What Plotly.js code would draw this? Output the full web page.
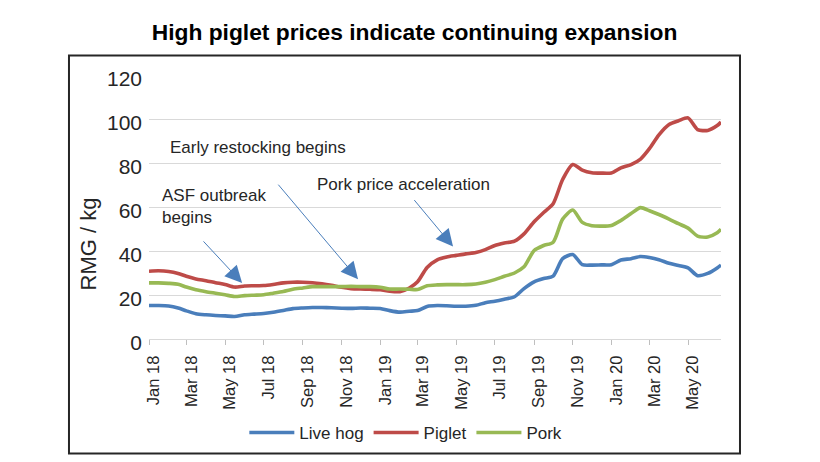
<!DOCTYPE html>
<html>
<head>
<meta charset="utf-8">
<script src="https://cdn.plot.ly/plotly-3.0.1.min.js"></script>
<style>
  html, body { margin: 0; padding: 0; background: #ffffff; }
  #chart { width: 820px; height: 462px; }
</style>
</head>
<body>
<div id="chart"></div>
<script>
// Semi-monthly observations, Jan 2018 - Jun 2020 (RMB per kg)
const dates = [
  '2018-01-01','2018-01-16','2018-02-01','2018-02-16','2018-03-01','2018-03-16',
  '2018-04-01','2018-04-16','2018-05-01','2018-05-16','2018-06-01','2018-06-16',
  '2018-07-01','2018-07-16','2018-08-01','2018-08-16','2018-09-01','2018-09-16',
  '2018-10-01','2018-10-16','2018-11-01','2018-11-16','2018-12-01','2018-12-16',
  '2019-01-01','2019-01-16','2019-02-01','2019-02-16','2019-03-01','2019-03-16',
  '2019-04-01','2019-04-16','2019-05-01','2019-05-16','2019-06-01','2019-06-16',
  '2019-07-01','2019-07-16','2019-08-01','2019-08-16','2019-09-01','2019-09-16',
  '2019-10-01','2019-10-16','2019-11-01','2019-11-16','2019-12-01','2019-12-16',
  '2020-01-01','2020-01-16','2020-02-01','2020-02-16','2020-03-01','2020-03-16',
  '2020-04-01','2020-04-16','2020-05-01','2020-05-16','2020-06-01','2020-06-16',
  '2020-06-22'
];

const liveHog = [
  15.2, 15.2, 15.0, 14.1, 12.8, 11.5, 11.0, 10.7, 10.5, 10.2, 11.0, 11.3,
  11.6, 12.2, 13.0, 13.8, 14.1, 14.3, 14.3, 14.2, 14.0, 13.9, 14.1, 14.0,
  13.9, 12.9, 12.2, 12.6, 12.9, 14.8, 15.2, 15.1, 14.9, 14.9, 15.3, 16.5,
  17.2, 18.1, 19.2, 22.9, 26.0, 27.5, 28.6, 36.5, 38.4, 33.8, 33.6, 33.7,
  33.8, 35.9, 36.5, 37.5, 37.0, 36.0, 34.4, 33.4, 32.3, 28.8, 29.8, 32.3,
  33.6
];

const piglet = [
  30.8, 31.0, 30.7, 29.8, 28.5, 27.3, 26.5, 25.6, 24.8, 23.6, 24.1, 24.2,
  24.3, 24.8, 25.5, 25.8, 25.8, 25.6, 25.1, 24.4, 23.5, 22.9, 22.7, 22.6,
  22.4, 21.7, 21.5, 23.2, 26.0, 32.5, 36.0, 37.3, 38.0, 38.7, 39.3, 40.6,
  42.5, 43.6, 44.5, 47.8, 53.3, 57.5, 61.5, 72.5, 79.3, 76.8, 75.6, 75.4,
  75.5, 77.8, 79.3, 81.8, 86.5, 92.8, 97.5, 99.2, 100.5, 95.2, 94.8, 97.0,
  98.6
];

const pork = [
  25.5, 25.5, 25.3, 24.9, 23.6, 22.4, 21.5, 20.8, 20.1, 19.3, 19.7, 19.9,
  20.1, 20.8, 21.6, 22.6, 23.2, 23.8, 23.8, 23.8, 23.8, 23.9, 23.8, 23.8,
  23.5, 22.7, 22.7, 22.6, 22.5, 24.2, 24.6, 24.7, 24.7, 24.7, 25.0, 25.8,
  27.0, 28.5, 30.0, 32.8, 40.2, 42.5, 44.0, 54.5, 58.6, 53.0, 51.5, 51.3,
  51.6, 53.9, 57.0, 59.7, 58.3, 56.6, 54.5, 52.4, 50.4, 46.8, 46.4, 48.3,
  49.9
];

const seriesNames = ['Live hog', 'Piglet', 'Pork'];
const seriesColors = ['#4a7ebb', '#be4b48', '#98b954'];

const FONT = 'Liberation Sans, Arial, sans-serif';
const TEXT = '#262626';

const traces = [liveHog, piglet, pork].map((vals, i) => ({
  type: 'scatter',
  mode: 'lines',
  name: seriesNames[i],
  x: dates,
  y: vals,
  line: { color: seriesColors[i], width: 3.6, shape: 'spline', smoothing: 0.7 },
  hoverinfo: 'x+y+name'
}));

const arrowStyle = {
  showarrow: true, text: '', axref: 'pixel', ayref: 'pixel',
  arrowhead: 2, arrowsize: 3.4, arrowwidth: 1, arrowcolor: '#4a7ebb', standoff: 0
};

const layout = {
  width: 820,
  height: 462,
  margin: { l: 149, r: 99, t: 75, b: 122 },
  paper_bgcolor: '#ffffff',
  plot_bgcolor: '#ffffff',
  font: { family: FONT, color: TEXT },
  title: {
    text: 'High piglet prices indicate continuing expansion',
    font: { family: FONT, size: 22.8, weight: 'bold', color: '#000000' },
    xref: 'container', x: 0.5055, xanchor: 'center',
    yref: 'container', y: 0.931, yanchor: 'middle'
  },
  xaxis: {
    type: 'date',
    range: ['2018-01-01', '2020-06-22'],
    tick0: '2018-01-01',
    dtick: 'M2',
    tickformat: '%b %y',
    tickangle: -90,
    ticks: 'outside',
    ticklen: 5,
    tickcolor: '#bfbfbf',
    ticklabelshift: 5,
    ticklabelstandoff: 4,
    tickfont: { family: FONT, size: 16.5, color: TEXT },
    showgrid: false,
    zeroline: false,
    showline: true,
    linecolor: '#d9d9d9',
    linewidth: 1,
    fixedrange: true
  },
  yaxis: {
    range: [0, 120],
    dtick: 20,
    tick0: 0,
    showgrid: true,
    gridcolor: '#d9d9d9',
    gridwidth: 1,
    zeroline: false,
    showline: false,
    ticks: '',
    ticklabelstandoff: 6,
    ticklabelshift: 4,
    tickfont: { family: FONT, size: 21, color: TEXT },
    fixedrange: true
  },
  showlegend: true,
  legend: {
    orientation: 'h',
    x: 0.449, xanchor: 'center',
    y: -0.351, yanchor: 'middle',
    itemwidth: 45,
    font: { family: FONT, size: 17, color: TEXT },
    bgcolor: 'rgba(0,0,0,0)',
    traceorder: 'normal'
  },
  shapes: [{
    type: 'rect', xref: 'paper', yref: 'paper',
    x0: -0.1399, x1: 1.0332, y0: -0.434, y1: 1.0736,
    line: { color: '#262626', width: 2 },
    fillcolor: 'rgba(0,0,0,0)', layer: 'below'
  }],
  annotations: [
    // vertical axis label
    { xref: 'paper', yref: 'paper', x: -0.1066, y: 0.3585, xanchor: 'center', yanchor: 'middle',
      textangle: -90, text: 'RMG / kg', showarrow: false, font: { size: 22, color: TEXT } },
    { xref: 'paper', yref: 'paper', x: 0.0327, y: 0.727, xanchor: 'left', yanchor: 'middle',
      text: 'Early restocking begins', showarrow: false, font: { size: 17, color: TEXT } },
    { xref: 'paper', yref: 'paper', x: 0.0192, y: 0.501, xanchor: 'left', yanchor: 'middle',
      align: 'left', text: 'ASF outbreak<br>begins', showarrow: false, font: { size: 17, color: TEXT } },
    { xref: 'paper', yref: 'paper', x: 0.290, y: 0.587, xanchor: 'left', yanchor: 'middle',
      text: 'Pork price acceleration', showarrow: false, font: { size: 17, color: TEXT } },
    Object.assign({ xref: 'x', yref: 'y', x: '2018-05-28', y: 25.5, ax: -40, ay: -43 }, arrowStyle),
    Object.assign({ xref: 'x', yref: 'y', x: '2018-11-27', y: 27.2, ax: -81, ay: -96 }, arrowStyle),
    Object.assign({ xref: 'x', yref: 'y', x: '2019-04-26', y: 42.0, ax: -40, ay: -48 }, arrowStyle)
  ]
};

Plotly.newPlot('chart', traces, layout, { displayModeBar: false, staticPlot: true });
</script>
</body>
</html>
